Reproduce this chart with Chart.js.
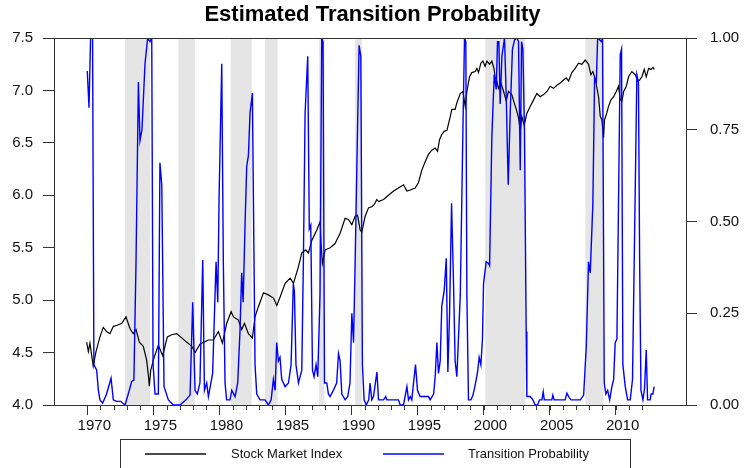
<!DOCTYPE html>
<html>
<head>
<meta charset="utf-8">
<title>Estimated Transition Probability</title>
<script src="https://cdn.jsdelivr.net/npm/chart.js@4.4.1/dist/chart.umd.min.js"></script>
<style>
  body { margin: 0; background: #fff; }
  #wrap { position: relative; width: 745px; height: 468px; font-family: "Liberation Sans", Arial, sans-serif; }
  #chart { position: absolute; left: 0; top: 0; }
  .legend { position: absolute; left: 120px; top: 439px; width: 511px; height: 40px;
            border: 1px solid #333; box-sizing: border-box; }
  .key { position: absolute; top: 13px; width: 61px; height: 2px; }
  .label { position: absolute; top: 6px; font-size: 13px; line-height: 15px; color: #111; white-space: nowrap; }
</style>
</head>
<body>
<div id="wrap">
  <canvas id="chart" width="745" height="468"></canvas>
  <div class="legend">
    <div class="key" style="left:24px;background:#4a4a4a"></div>
    <div class="label" style="left:110px">Stock Market Index</div>
    <div class="key" style="left:262px;background:#4545ff"></div>
    <div class="label" style="left:347px">Transition Probability</div>
  </div>
</div>
<script>
'use strict';

// log stock market index, [year, value]
var stockSeries = [
    [1969.95,4.60],[1970.08,4.51],[1970.20,4.59],[1970.45,4.37],[1970.66,4.51],[1970.96,4.65],[1971.21,4.74],
    [1971.46,4.70],[1971.72,4.68],[1971.97,4.75],[1972.27,4.76],[1972.61,4.78],[1972.93,4.84],[1973.23,4.73],
    [1973.48,4.68],[1973.69,4.72],[1973.94,4.60],[1974.24,4.56],[1974.49,4.43],[1974.62,4.29],[1974.70,4.18],
    [1974.80,4.33],[1975.05,4.45],[1975.38,4.57],[1975.71,4.47],[1976.06,4.65],[1976.39,4.67],[1976.77,4.68],
    [1977.15,4.64],[1977.52,4.60],[1977.91,4.56],[1978.16,4.50],[1978.53,4.58],[1978.84,4.60],[1979.17,4.62],
    [1979.54,4.62],[1979.93,4.70],[1980.23,4.59],[1980.56,4.78],[1980.89,4.89],[1981.07,4.84],[1981.44,4.81],
    [1981.69,4.72],[1981.90,4.78],[1982.20,4.68],[1982.50,4.64],[1982.70,4.84],[1982.96,4.94],[1983.34,5.07],
    [1983.71,5.05],[1984.10,5.02],[1984.35,4.95],[1984.60,5.03],[1984.98,5.16],[1985.36,5.21],[1985.61,5.16],
    [1985.99,5.32],[1986.24,5.45],[1986.54,5.48],[1986.74,5.45],[1987.00,5.57],[1987.38,5.67],[1987.63,5.75],
    [1987.70,5.54],[1987.80,5.35],[1988.01,5.48],[1988.39,5.50],[1988.76,5.54],[1989.15,5.64],[1989.52,5.78],
    [1989.77,5.77],[1990.03,5.72],[1990.28,5.80],[1990.46,5.81],[1990.66,5.67],[1990.78,5.65],[1991.04,5.80],
    [1991.29,5.88],[1991.54,5.89],[1991.72,5.91],[1991.92,5.96],[1992.05,5.94],[1992.43,5.96],[1992.80,6.00],
    [1993.19,6.04],[1993.56,6.07],[1993.94,6.10],[1994.20,6.04],[1994.45,6.05],[1994.82,6.07],[1995.07,6.12],
    [1995.33,6.24],[1995.58,6.32],[1995.83,6.39],[1996.08,6.43],[1996.34,6.45],[1996.52,6.42],[1996.67,6.53],
    [1996.84,6.58],[1997.02,6.61],[1997.23,6.62],[1997.48,6.75],[1997.60,6.82],[1997.85,6.82],[1997.98,6.88],
    [1998.24,6.97],[1998.44,6.99],[1998.61,6.85],[1998.74,6.99],[1998.94,7.13],[1999.11,7.17],[1999.37,7.18],
    [1999.50,7.21],[1999.62,7.17],[1999.80,7.26],[1999.95,7.28],[2000.12,7.23],[2000.26,7.28],[2000.46,7.25],
    [2000.63,7.28],[2000.81,7.20],[2000.88,7.12],[2001.01,7.09],[2001.13,7.02],[2001.32,7.07],[2001.52,6.99],
    [2001.72,6.90],[2001.89,6.99],[2002.14,6.96],[2002.28,6.90],[2002.48,6.82],[2002.65,6.74],[2002.78,6.61],
    [2002.90,6.75],[2003.08,6.67],[2003.28,6.78],[2003.54,6.85],[2003.79,6.91],[2004.04,6.97],[2004.29,6.94],
    [2004.55,6.96],[2004.80,6.99],[2005.05,7.04],[2005.30,7.02],[2005.56,7.05],[2005.81,7.07],[2006.06,7.10],
    [2006.26,7.12],[2006.44,7.09],[2006.69,7.17],[2006.94,7.21],[2007.19,7.26],[2007.45,7.25],[2007.70,7.29],
    [2007.95,7.25],[2008.13,7.15],[2008.28,7.18],[2008.46,7.11],[2008.59,7.02],[2008.71,6.94],[2008.84,6.75],
    [2008.96,6.72],[2009.09,6.55],[2009.16,6.72],[2009.30,6.77],[2009.47,6.85],[2009.65,6.91],[2009.85,6.94],
    [2010.05,6.99],[2010.22,7.04],[2010.35,6.91],[2010.48,6.90],[2010.61,6.99],[2010.81,7.04],[2010.98,7.13],
    [2011.23,7.18],[2011.49,7.15],[2011.67,7.09],[2011.82,7.10],[2011.99,7.13],[2012.17,7.20],[2012.32,7.13],
    [2012.50,7.21],[2012.68,7.20],[2012.83,7.22],[2012.93,7.20]
];

// estimated transition probability, [year, value]
var probSeries = [
    [1970.00,0.91],[1970.13,0.81],[1970.25,1.00],[1970.40,1.00],[1970.50,0.11],[1970.71,0.095],[1970.84,0.04],
    [1970.96,0.014],[1971.16,0.005],[1971.46,0.03],[1971.80,0.073],[1971.97,0.014],[1972.22,0.01],[1972.52,0.01],
    [1972.86,0.0],[1973.18,0.04],[1973.36,0.064],[1973.53,0.068],[1973.69,0.39],[1973.87,0.88],[1973.99,0.72],
    [1974.14,0.75],[1974.37,0.93],[1974.57,1.0],[1974.75,0.99],[1974.88,1.0],[1974.98,0.11],[1975.13,0.03],
    [1975.38,0.03],[1975.50,0.66],[1975.64,0.60],[1975.81,0.05],[1976.14,0.014],[1976.51,0.0],[1977.02,0.0],
    [1977.47,0.014],[1977.78,0.027],[1977.98,0.28],[1978.16,0.04],[1978.33,0.03],[1978.53,0.06],[1978.74,0.395],
    [1978.87,0.04],[1979.04,0.06],[1979.17,0.023],[1979.49,0.086],[1979.75,0.39],[1979.88,0.28],[1979.98,0.57],
    [1980.18,0.93],[1980.30,0.39],[1980.43,0.06],[1980.55,0.014],[1980.80,0.014],[1980.94,0.04],[1981.19,0.023],
    [1981.39,0.06],[1981.56,0.20],[1981.69,0.36],[1981.80,0.28],[1981.95,0.50],[1982.07,0.65],[1982.20,0.68],
    [1982.32,0.795],[1982.50,0.85],[1982.70,0.11],[1982.83,0.03],[1983.08,0.014],[1983.46,0.014],[1983.71,0.0],
    [1983.92,0.014],[1984.09,0.07],[1984.22,0.04],[1984.34,0.17],[1984.47,0.12],[1984.59,0.13],[1984.72,0.07],
    [1984.98,0.05],[1985.23,0.06],[1985.43,0.11],[1985.60,0.33],[1985.68,0.31],[1985.80,0.11],[1985.99,0.06],
    [1986.24,0.095],[1986.36,0.39],[1986.49,0.795],[1986.69,0.95],[1986.81,0.48],[1986.92,0.49],[1987.05,0.095],
    [1987.17,0.077],[1987.32,0.11],[1987.45,0.077],[1987.62,0.30],[1987.75,1.0],[1987.85,0.99],[1987.96,0.06],
    [1988.13,0.06],[1988.26,0.03],[1988.38,0.023],[1988.63,0.04],[1988.88,0.06],[1989.02,0.14],[1989.14,0.12],
    [1989.27,0.03],[1989.52,0.014],[1989.72,0.023],[1989.89,0.06],[1990.03,0.25],[1990.16,0.17],[1990.28,0.39],
    [1990.46,0.75],[1990.58,0.98],[1990.71,0.95],[1990.83,0.11],[1990.96,0.014],[1991.12,0.0],[1991.31,0.014],
    [1991.41,0.06],[1991.54,0.014],[1991.67,0.023],[1991.93,0.09],[1992.05,0.014],[1992.43,0.014],[1992.60,0.023],
    [1992.68,0.014],[1993.56,0.014],[1993.69,0.0],[1993.94,0.0],[1994.20,0.05],[1994.32,0.014],[1994.45,0.023],
    [1994.57,0.014],[1994.70,0.06],[1994.85,0.11],[1995.00,0.04],[1995.20,0.023],[1995.83,0.023],[1995.96,0.014],
    [1996.22,0.03],[1996.34,0.077],[1996.47,0.17],[1996.59,0.086],[1996.72,0.12],[1996.84,0.27],[1997.02,0.31],
    [1997.18,0.40],[1997.30,0.09],[1997.43,0.25],[1997.58,0.55],[1997.73,0.33],[1997.85,0.12],[1997.98,0.077],
    [1998.24,0.30],[1998.44,0.75],[1998.56,1.0],[1998.66,0.99],[1998.74,0.30],[1998.86,0.014],[1999.05,0.014],
    [1999.20,0.027],[1999.37,0.055],[1999.55,0.09],[1999.67,0.13],[1999.80,0.11],[1999.92,0.18],[2000.00,0.33],
    [2000.20,0.39],[2000.38,0.386],[2000.46,0.38],[2000.63,0.73],[2000.81,0.90],[2000.96,0.86],[2001.06,0.99],
    [2001.16,0.99],[2001.26,0.82],[2001.39,0.95],[2001.59,1.0],[2001.72,0.84],[2001.87,0.60],[2002.02,0.795],
    [2002.19,0.97],[2002.35,0.995],[2002.53,1.0],[2002.65,0.99],[2002.78,0.64],[2002.88,0.99],[2002.98,0.97],
    [2003.10,0.75],[2003.23,0.20],[2003.28,0.023],[2003.54,0.023],[2003.74,0.014],[2003.91,0.0],[2004.09,0.0],
    [2004.24,0.014],[2004.42,0.014],[2004.52,0.036],[2004.60,0.014],[2005.17,0.014],[2005.25,0.027],[2005.35,0.014],
    [2006.18,0.014],[2006.31,0.032],[2006.49,0.02],[2006.62,0.014],[2007.33,0.014],[2007.58,0.027],[2007.78,0.16],
    [2007.95,0.39],[2008.08,0.36],[2008.28,0.55],[2008.41,0.89],[2008.54,0.88],[2008.64,1.0],[2008.79,0.995],
    [2008.91,0.99],[2009.01,1.0],[2009.14,0.06],[2009.26,0.03],[2009.40,0.04],[2009.55,0.014],[2009.72,0.05],
    [2009.85,0.07],[2009.97,0.17],[2010.10,0.18],[2010.22,0.55],[2010.35,0.955],[2010.45,0.97],[2010.55,0.11],
    [2010.73,0.05],[2010.91,0.014],[2011.11,0.014],[2011.28,0.07],[2011.48,0.57],[2011.61,0.90],[2011.73,0.88],
    [2011.82,0.39],[2011.92,0.04],[2012.07,0.014],[2012.19,0.045],[2012.32,0.15],[2012.42,0.014],[2012.62,0.014],
    [2012.69,0.03],[2012.82,0.03],[2012.92,0.05]
];

// shaded periods
var bandStarts = [1972.86, 1976.90, 1980.86, 1983.46, 1987.55, 1990.28, 2000.13, 2007.71];
var bandEnds   = [1974.75, 1978.16, 1982.45, 1984.42, 1987.95, 1990.79, 2003.16, 2009.09];

// axes
var xMin = 1967.48, xMax = 2015.33;
var labelYears = [1970, 1975, 1980, 1985, 1990, 1995, 2000, 2005, 2010];
var firstTickYear = 1970, lastTickYear = 2012;
var leftTicks = [4.0, 4.5, 5.0, 5.5, 6.0, 6.5, 7.0, 7.5];
var rightTicks = [0, 0.25, 0.5, 0.75, 1.0];

var tickYears = [];
for (var yr = firstTickYear; yr <= lastTickYear; yr++) {
    tickYears.push(yr);
}

var toPoints = function(series) {
    return series.map(function(p) { return {x: p[0], y: p[1]}; });
};

var FONT = '"Liberation Sans", Arial, sans-serif';
var AXIS = '#333';

var bandsPlugin = {
    id: 'bands',
    beforeDatasetsDraw: function(chart) {
        var ctx = chart.ctx, area = chart.chartArea, x = chart.scales.x;
        ctx.save();
        ctx.fillStyle = '#e5e5e5';
        for (var i = 0; i < bandStarts.length; i++) {
            var x0 = x.getPixelForValue(bandStarts[i]);
            var x1 = x.getPixelForValue(bandEnds[i]);
            ctx.fillRect(x0, area.top, x1 - x0, area.bottom - area.top);
        }
        ctx.restore();
    }
};

var framePlugin = {
    id: 'frame',
    afterDatasetsDraw: function(chart) {
        var ctx = chart.ctx, area = chart.chartArea, x = chart.scales.x;
        ctx.save();
        ctx.strokeStyle = AXIS;
        ctx.lineWidth = 1;
        ctx.strokeRect(Math.round(area.left) + 0.5, Math.round(area.top) + 0.5,
            Math.round(area.right - area.left), Math.round(area.bottom - area.top));
        // short yearly ticks
        ctx.beginPath();
        tickYears.forEach(function(v) {
            var px = Math.round(x.getPixelForValue(v)) + 0.5;
            ctx.moveTo(px, area.bottom);
            ctx.lineTo(px, area.bottom + 5);
        });
        ctx.stroke();
        ctx.restore();
    }
};

new Chart(document.getElementById('chart'), {
    type: 'line',
    data: {
        datasets: [
            {
                label: 'Transition Probability',
                data: toPoints(probSeries),
                yAxisID: 'y1',
                borderColor: '#0000ff',
                borderWidth: 1.4,
                pointRadius: 0,
                tension: 0
            },
            {
                label: 'Stock Market Index',
                data: toPoints(stockSeries),
                yAxisID: 'y',
                borderColor: '#000000',
                borderWidth: 1.2,
                pointRadius: 0,
                tension: 0
            }
        ]
    },
    options: {
        responsive: false,
        animation: false,
        devicePixelRatio: 1,
        layout: { padding: 0 },
        plugins: {
            legend: { display: false },
            tooltip: { enabled: false },
            title: {
                display: true,
                text: 'Estimated Transition Probability',
                color: '#000',
                font: { family: FONT, size: 22, weight: 'bold' },
                padding: { top: 2, bottom: 9.6 }
            }
        },
        scales: {
            x: {
                type: 'linear',
                min: xMin,
                max: xMax,
                afterBuildTicks: function(scale) {
                    scale.ticks = tickYears.map(function(v) { return {value: v}; });
                },
                afterFit: function(scale) { scale.height = 63; },
                border: { display: false },
                grid: {
                    drawOnChartArea: false,
                    tickLength: 10,
                    tickColor: function(c) {
                        return c.tick && labelYears.indexOf(c.tick.value) >= 0 ? AXIS : 'rgba(0,0,0,0)';
                    }
                },
                ticks: {
                    autoSkip: false,
                    maxRotation: 0,
                    minRotation: 0,
                    padding: 2,
                    labelOffset: 7,
                    color: '#111',
                    font: { family: FONT, size: 15 },
                    callback: function(value) {
                        return labelYears.indexOf(value) >= 0 ? String(value) : '';
                    }
                }
            },
            y: {
                position: 'left',
                min: 4,
                max: 7.5,
                afterBuildTicks: function(scale) {
                    scale.ticks = leftTicks.map(function(v) { return {value: v}; });
                },
                afterFit: function(scale) { scale.width = 54; },
                border: { display: false },
                grid: { drawOnChartArea: false, tickLength: 11, tickColor: AXIS },
                ticks: {
                    padding: 10,
                    color: '#111',
                    font: { family: FONT, size: 15 },
                    callback: function(value) { return value.toFixed(1); }
                }
            },
            y1: {
                position: 'right',
                min: 0,
                max: 1,
                afterBuildTicks: function(scale) {
                    scale.ticks = rightTicks.map(function(v) { return {value: v}; });
                },
                afterFit: function(scale) { scale.width = 59; },
                border: { display: false },
                grid: { drawOnChartArea: false, tickLength: 11, tickColor: AXIS },
                ticks: {
                    padding: 13,
                    color: '#111',
                    font: { family: FONT, size: 15 },
                    callback: function(value) { return value.toFixed(2); }
                }
            }
        }
    },
    plugins: [bandsPlugin, framePlugin]
});
</script>
</body>
</html>
